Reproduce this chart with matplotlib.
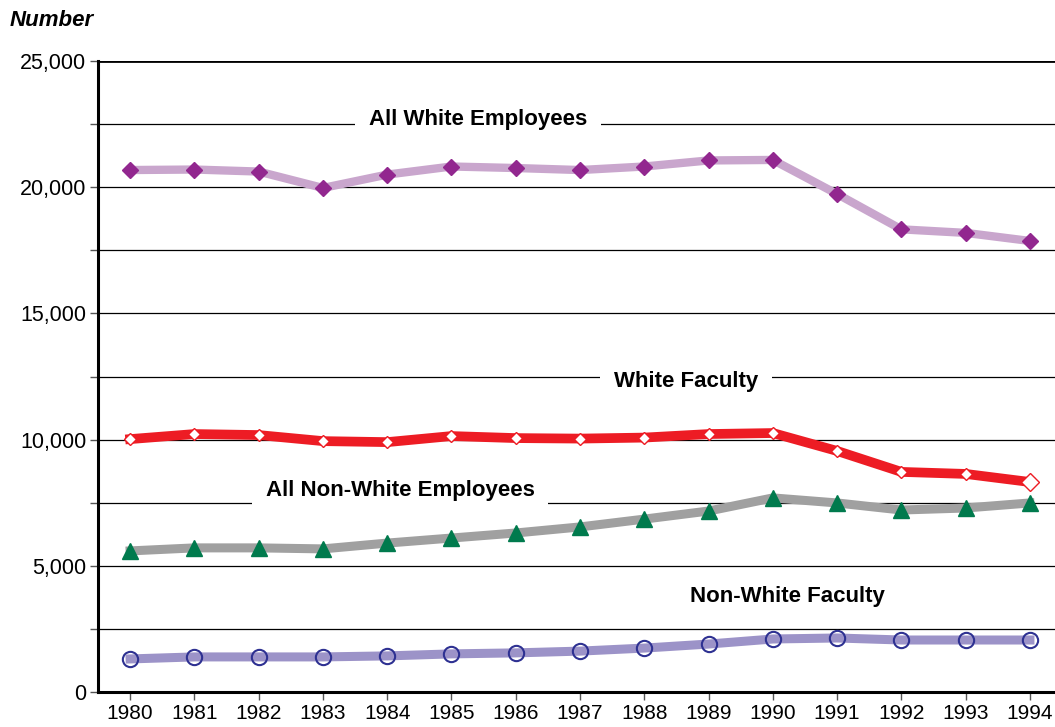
"""Employees by race, 1980-1994."""
import matplotlib
matplotlib.use('Agg')
import matplotlib.pyplot as plt

plt.rcParams['font.family'] = ['Liberation Sans', 'DejaVu Sans']

years = list(range(1980, 1995))
all_white = [20680, 20700, 20620, 19970, 20500, 20820, 20760, 20680, 20820, 21060,
             21080, 19730, 18330, 18190, 17870]
white_faculty = [10020, 10220, 10180, 9940, 9900, 10140, 10060, 10040, 10080, 10220,
                 10260, 9550, 8720, 8640, 8320]
all_nonwhite = [5590, 5710, 5710, 5670, 5900, 6100, 6300, 6540, 6850, 7170,
                7690, 7490, 7210, 7290, 7490]
nonwhite_faculty = [1310, 1390, 1390, 1390, 1430, 1510, 1550, 1620, 1740, 1900,
                    2100, 2140, 2060, 2060, 2060]

fig = plt.figure(figsize=(10.55, 7.27), dpi=100)
ax = fig.add_axes([98/1055, 1-692/727, 1-98/1055, (692-61)/727])

# gridlines every 2500
for v in range(2500, 25001, 2500):
    ax.axhline(v, color='black', lw=2.0 if v == 25000 else 0.9, zorder=1)

ax.plot(years, all_white, color='#C9A6CD', lw=6, zorder=3,
        marker='D', ms=8, mfc='#92278F', mec='#92278F')
ax.plot(years, white_faculty, color='#ED1C24', lw=7, zorder=3,
        marker='D', ms=6, mfc='white', mec='#ED1C24', mew=1.0)
ax.plot(years[-1:], white_faculty[-1:], ls='none', marker='D', ms=9,
        mfc='white', mec='#ED1C24', mew=1.0, zorder=4)
ax.plot(years, all_nonwhite, color='#A0A0A0', lw=6.5, zorder=3,
        marker='^', ms=11, mfc='#007A4D', mec='#007A4D')
ax.plot(years, nonwhite_faculty, color='#9C93C8', lw=6.5, zorder=3,
        marker='o', ms=11, mfc='none', mec='#2E3192', mew=1.5)

lbl = dict(fontsize=16, fontweight='bold', ha='center', va='center', zorder=2,
           bbox=dict(facecolor='white', edgecolor='none', pad=10))
ax.text(1985.41, 22700, 'All White Employees', **lbl)
ax.text(1988.65, 12320, 'White Faculty', **lbl)
ax.text(1984.2, 8000, 'All Non-White Employees', **lbl)
ax.text(1990.22, 3800, 'Non-White Faculty', **lbl)

ax.set_xlim(1979.5, 1994.39)
ax.set_ylim(0, 25000)
ax.set_xticks(years)
ax.set_xticklabels([str(y) for y in years], fontsize=15)
ax.set_yticks(range(0, 25001, 5000))
ax.set_yticklabels(['0', '5,000', '10,000', '15,000', '20,000', '25,000'], fontsize=15.5)
ax.set_yticks(range(2500, 25000, 5000), minor=True)
ax.tick_params(axis='y', which='both', length=5.5, width=1, color='#555555', direction='out', pad=3)
ax.tick_params(axis='x', length=5.5, width=1, color='#555555', direction='out', pad=3)

for s in ['top', 'right']:
    ax.spines[s].set_visible(False)
ax.spines['left'].set_linewidth(2.2)
ax.spines['bottom'].set_linewidth(2.2)
ax.set_facecolor('white')

fig.text(10/1055, 1-20/727, 'Number', fontsize=16, fontweight='bold', style='italic',
         ha='left', va='center')

fig.savefig('out.png', dpi=100)
